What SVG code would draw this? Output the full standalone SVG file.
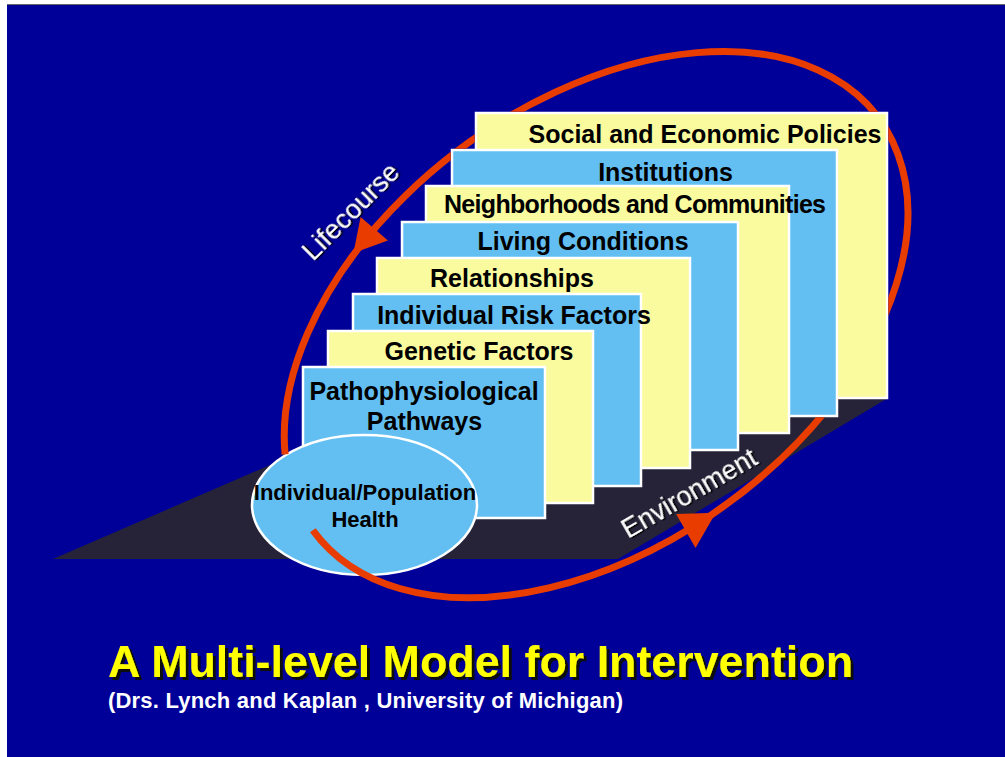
<svg xmlns="http://www.w3.org/2000/svg" width="1005" height="757" viewBox="0 0 1005 757">
<style>
.card rect{stroke:#ffffff;stroke-width:2.5}
.y{fill:#FAFA9E}
.b{fill:#63BFF2}
.lbl{font-family:"Liberation Sans",Arial,sans-serif;font-weight:bold;font-size:25px;fill:#000;text-anchor:middle}
.side{font-family:"Liberation Sans",Arial,sans-serif;font-size:27px;fill:#ffffff;filter:url(#sh1)}
.arc{fill:none;stroke:#E83C00;stroke-width:7}
.head{fill:#E83C00}
</style>
<defs>
<filter id="sh1" x="-10%" y="-30%" width="130%" height="170%">
<feDropShadow dx="1.5" dy="1.5" stdDeviation="0.3" flood-color="#000000" flood-opacity="1"/>
</filter>
<filter id="sh3" x="-5%" y="-20%" width="115%" height="150%">
<feDropShadow dx="3" dy="3" stdDeviation="0" flood-color="#111111" flood-opacity="1"/>
</filter>
<mask id="behindCards" maskUnits="userSpaceOnUse" x="0" y="0" width="1005" height="757">
<rect x="0" y="0" width="1005" height="757" fill="#fff"/>
<g fill="#000" stroke="#000" stroke-width="2.5">
<rect x="476" y="113" width="411" height="285"/>
<rect x="452" y="150" width="385" height="266"/>
<rect x="426" y="186" width="363" height="247"/>
<rect x="402" y="222" width="336" height="228"/>
<rect x="377" y="258" width="313" height="210"/>
<rect x="353" y="294" width="288" height="192"/>
<rect x="328" y="331" width="265" height="172"/>
<rect x="303" y="367" width="242" height="151"/>
</g>
</mask>
</defs>
<rect x="0" y="0" width="1005" height="757" fill="#ffffff"/>
<rect x="7" y="4" width="998" height="753" fill="#000099"/>
<line x1="7" y1="4.5" x2="1005" y2="4.5" stroke="#666666" stroke-width="1"/>
<polygon id="floor" points="53,559 600,322 888,398 618,559" fill="#262338"/>
<g id="card-social" class="card"><rect class="y" x="476" y="113" width="411" height="285"/><text class="lbl" x="705" y="143">Social and Economic Policies</text></g>
<g id="card-institutions" class="card"><rect class="b" x="452" y="150" width="385" height="266"/><text class="lbl" x="665.5" y="181">Institutions</text></g>
<g id="card-neighborhoods" class="card"><rect class="y" x="426" y="186" width="363" height="247"/><text class="lbl" x="635" y="213" textLength="382">Neighborhoods and Communities</text></g>
<g id="card-living" class="card"><rect class="b" x="402" y="222" width="336" height="228"/><text class="lbl" x="583" y="250">Living Conditions</text></g>
<g id="card-relationships" class="card"><rect class="y" x="377" y="258" width="313" height="210"/><text class="lbl" x="512" y="287">Relationships</text></g>
<g id="card-risk" class="card"><rect class="b" x="353" y="294" width="288" height="192"/><text class="lbl" x="514" y="324">Individual Risk Factors</text></g>
<g id="card-genetic" class="card"><rect class="y" x="328" y="331" width="265" height="172"/><text class="lbl" x="479" y="360">Genetic Factors</text></g>
<g id="card-patho" class="card"><rect class="b" x="303" y="367" width="242" height="151"/><text class="lbl" x="424" y="400">Pathophysiological</text><text class="lbl" x="424.5" y="430">Pathways</text></g>
<g id="node-health"><ellipse cx="364.5" cy="505" rx="112.5" ry="70" fill="#63BFF2" stroke="#ffffff" stroke-width="2.5"/><text class="lbl" style="font-size:22px" x="365" y="500">Individual/Population</text><text class="lbl" style="font-size:22px" x="365" y="527">Health</text></g>
<g id="connectors" mask="url(#behindCards)">
<g transform="translate(596 324.5) rotate(-36)">
<path class="arc" d="M -350 0 A 350 222 0 1 0 -327.8 -77.7"/>
<polygon class="head" points="-50.8,239.2 -46.6,200.4 -13.8,222.8"/>
<polygon class="head" points="-127.3,-225.3 -118.9,-190.3 -154.2,-200.4"/>
</g>
</g>
<g id="label-lifecourse">
<text class="side" transform="translate(313 262) rotate(-45)">Lifecourse</text>
</g>
<g id="label-environment">
<text class="side" transform="translate(628 539) rotate(-30)">Environment</text>
</g>
<g id="title">
<text x="108" y="677" font-family="Liberation Sans, Arial, sans-serif" font-weight="bold" font-size="44.8" fill="#FFFF00" filter="url(#sh3)">A Multi-level Model for Intervention</text>
<text x="108" y="708" font-family="Liberation Sans, Arial, sans-serif" font-weight="bold" font-size="22" fill="#ffffff" textLength="515">(Drs. Lynch and Kaplan , University of Michigan)</text>
</g>
</svg>
